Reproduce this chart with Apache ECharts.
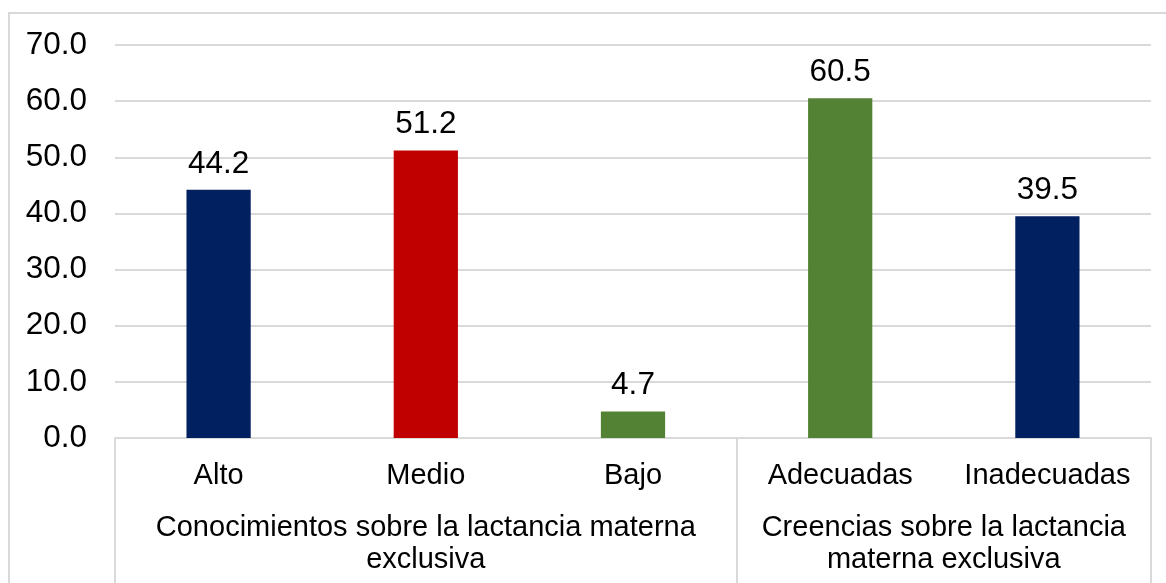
<!DOCTYPE html>
<html>
<head>
<meta charset="utf-8">
<script src="https://cdn.jsdelivr.net/npm/echarts@6/dist/echarts.min.js"></script>
<style>
* { margin: 0; padding: 0; }
html, body { width: 1166px; height: 583px; overflow: hidden; background: #fff; }
#chart { position: absolute; left: 0; top: 0; width: 1166px; height: 583px; }
#frame { position: absolute; left: 8px; top: 12px; width: 1200px; height: 620px; border: 2px solid #d9d9d9; pointer-events: none; }
</style>
</head>
<body>
<div id="chart"></div>
<div id="frame"></div>
<script>
// datos
var categories = ['Alto', 'Medio', 'Bajo', 'Adecuadas', 'Inadecuadas'];
var values = [44.2, 51.2, 4.7, 60.5, 39.5];
var barColors = ['#002060', '#C00000', '#548235', '#548235', '#002060'];
var groups = ['Conocimientos sobre la lactancia materna\nexclusiva', 'Creencias sobre la lactancia\nmaterna exclusiva'];
var groupSpans = [3, 2];

var font = '"Liberation Sans", Arial, sans-serif';

// limites de grupo y centros
var bounds = [0];
var centers = [];
groupSpans.forEach(function (n) {
    var start = bounds[bounds.length - 1];
    bounds.push(start + n);
    centers.push(start + n / 2);
});

var chart = echarts.init(document.getElementById('chart'));
chart.setOption({
    animation: false,
    grid: { left: 115, right: 15, top: 45, bottom: 145 },
    xAxis: [
        {
            type: 'category',
            data: categories,
            axisLine: { lineStyle: { color: '#d9d9d9', width: 2 } },
            axisTick: { show: false },
            axisLabel: { interval: 0, color: '#000', fontFamily: font, fontSize: 29, margin: 23 }
        },
        {
            type: 'value',
            position: 'bottom',
            min: 0,
            max: categories.length,
            splitLine: { show: false },
            axisLine: { show: false },
            axisTick: {
                show: true,
                customValues: bounds,
                length: 150,
                lineStyle: { color: '#d9d9d9', width: 2 }
            },
            axisLabel: {
                customValues: centers,
                color: '#000',
                fontFamily: font,
                fontSize: 29,
                lineHeight: 32,
                align: 'center',
                margin: 74,
                formatter: function (v) {
                    return groups[centers.indexOf(v)];
                }
            }
        }
    ],
    yAxis: {
        type: 'value',
        min: 0,
        max: 70,
        interval: 10,
        axisLine: { show: false },
        axisTick: { show: false },
        splitLine: { lineStyle: { color: '#d9d9d9', width: 2 } },
        axisLabel: {
            color: '#000',
            fontFamily: font,
            fontSize: 31.5,
            margin: 28,
            formatter: function (v) { return v.toFixed(1); }
        }
    },
    series: [{
        type: 'bar',
        barWidth: '31%',
        data: values.map(function (v, i) {
            return { value: v, itemStyle: { color: barColors[i] } };
        }),
        label: {
            show: true,
            position: 'top',
            distance: 10,
            color: '#000',
            fontFamily: font,
            fontSize: 31.5,
            formatter: function (p) { return p.value.toFixed(1); }
        }
    }]
});
</script>
</body>
</html>
